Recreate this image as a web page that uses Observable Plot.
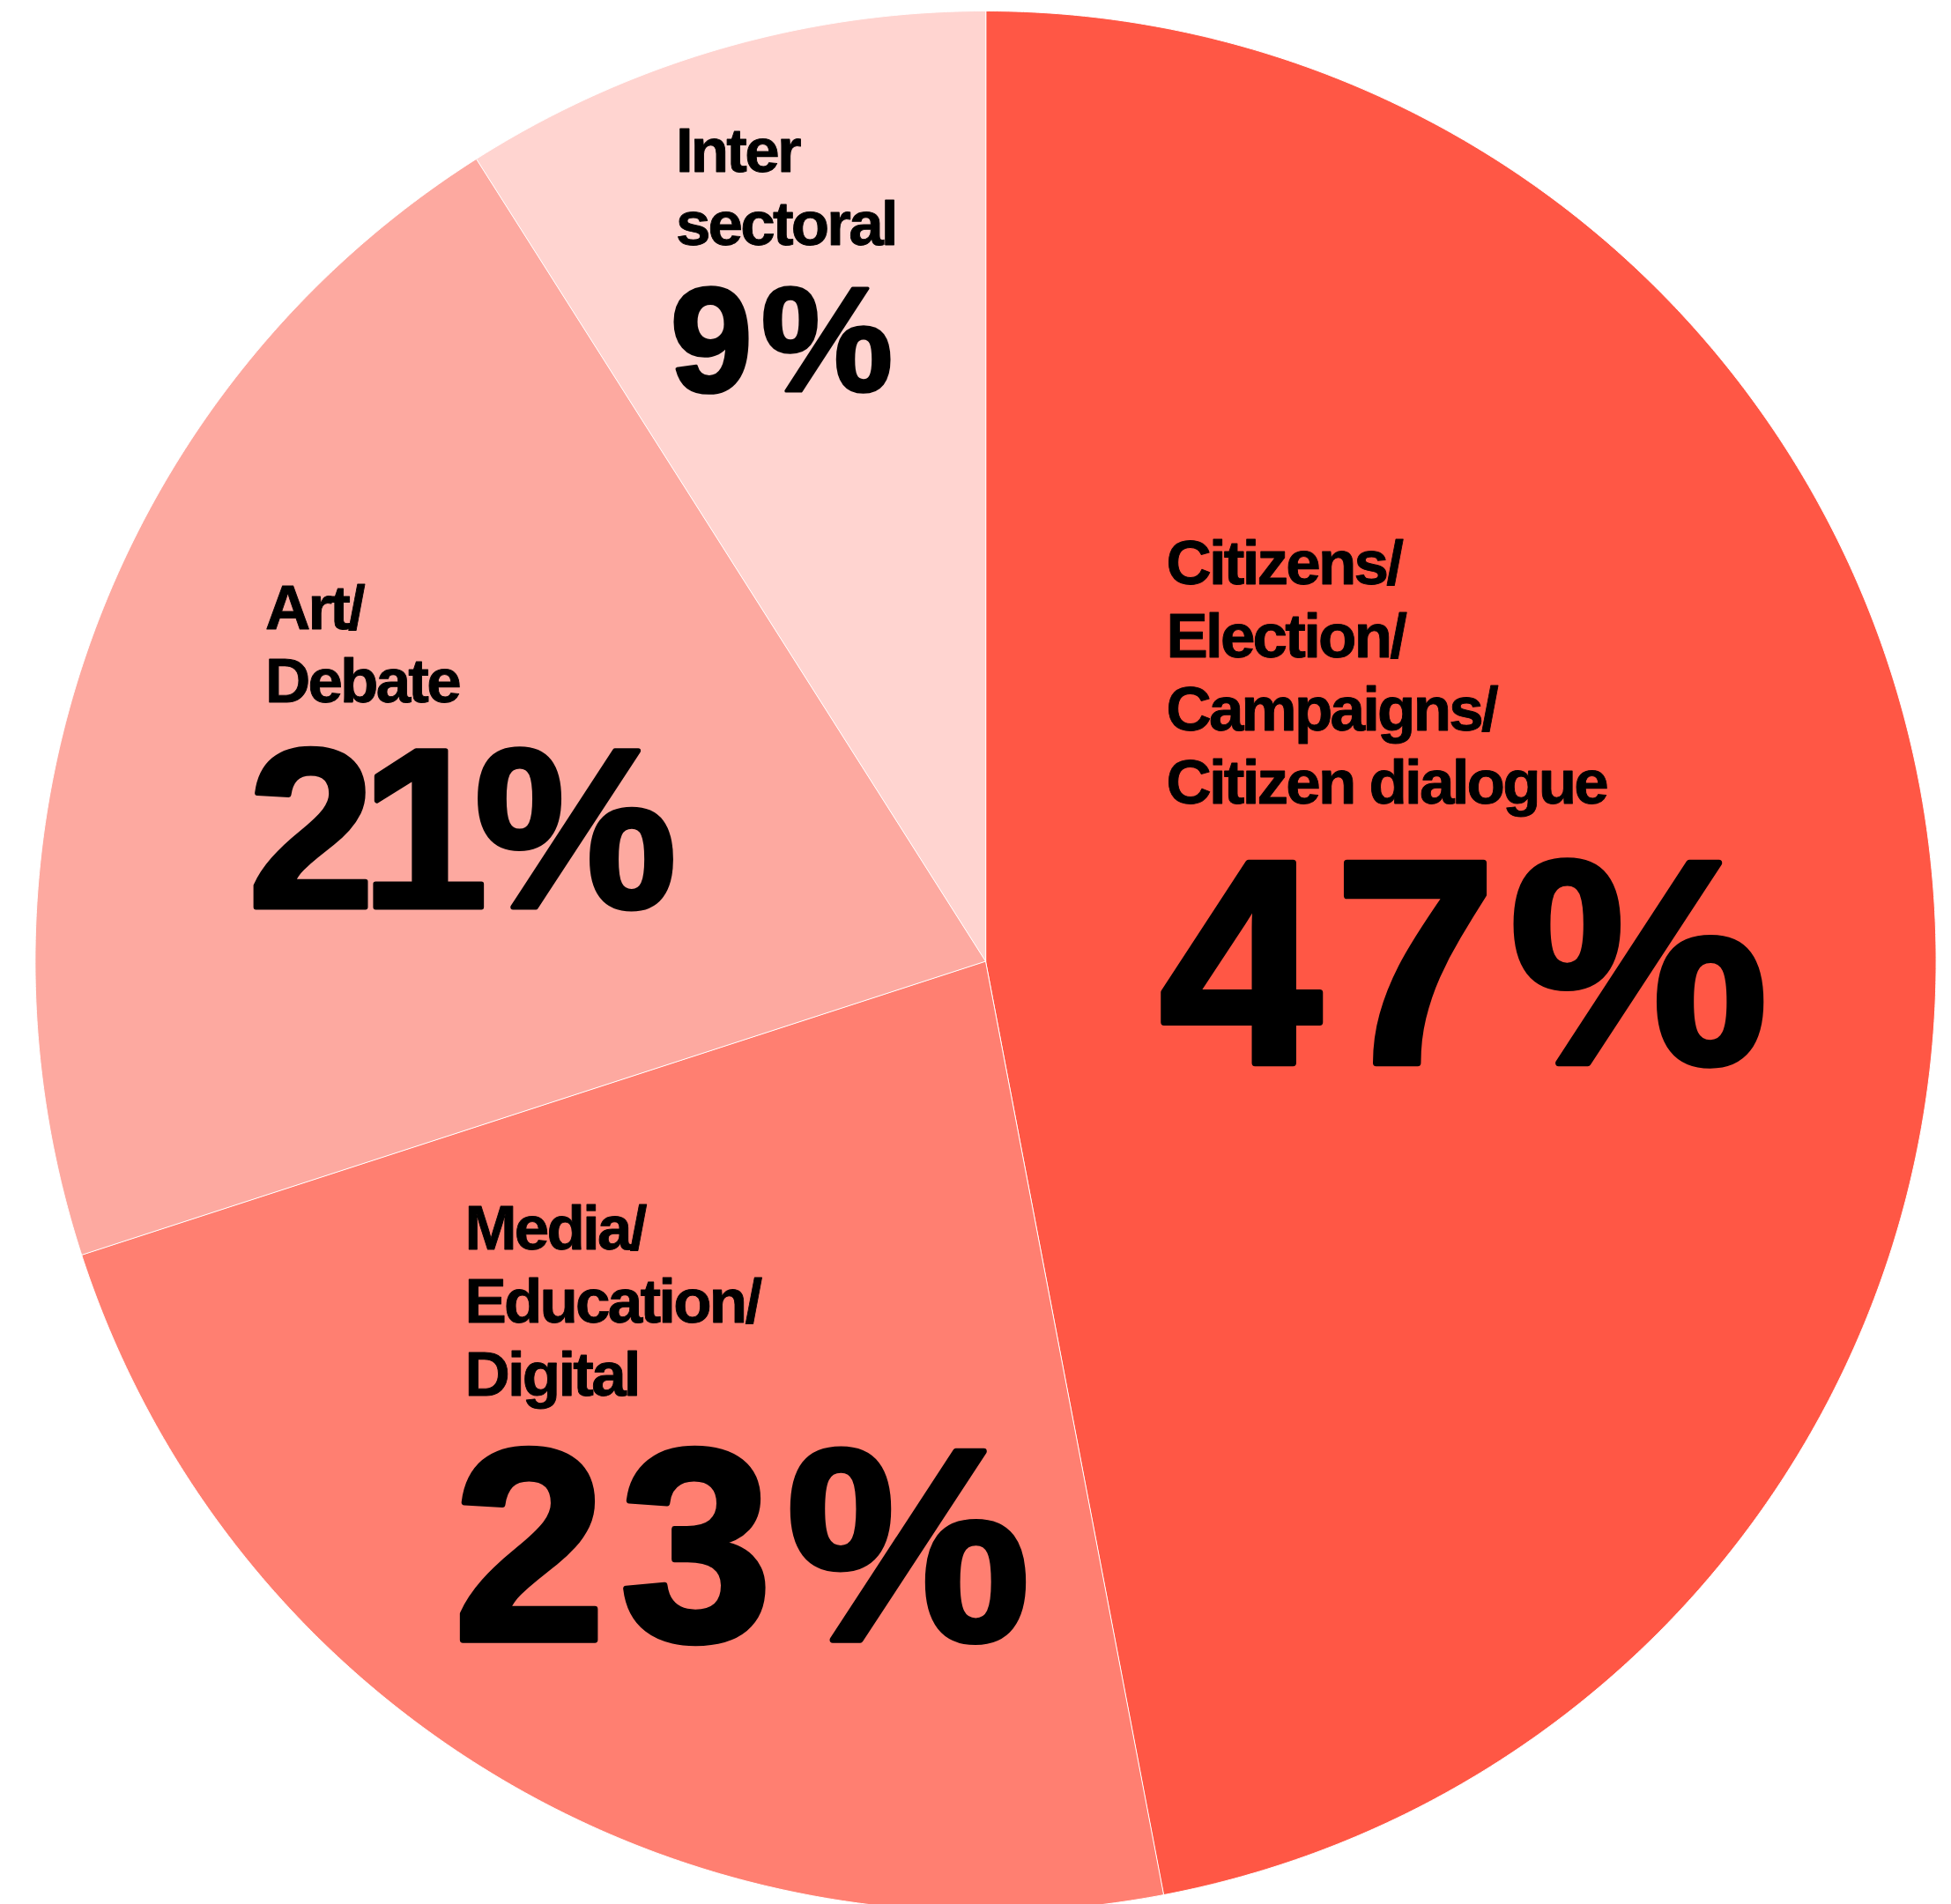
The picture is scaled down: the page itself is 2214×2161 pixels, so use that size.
<!DOCTYPE html>
<html><head><meta charset="utf-8">
<script src="https://cdn.jsdelivr.net/npm/d3@7"></script>
<script src="https://cdn.jsdelivr.net/npm/@observablehq/plot@0.6"></script>
<style>body{margin:0;background:#fff}svg{display:block}</style>
</head><body><div id="chart"></div>
<script>
// ---- data ----
const categories = ["Citizens/\nElection/\nCampaigns/\nCitizen dialogue", "Media/\nEducation/\nDigital", "Art/\nDebate", "Inter\nsectoral"];
const shares = [47, 23, 21, 9];
const colors = ["#FF5745", "#FF7F71", "#FDA9A0", "#FFD4D0"];

// ---- layout (not data) ----
const W = 2214, H = 2161;
const CX = 1118, CY = 1090.6, R = 1078.6;   // pie centre & radius in px
// label anchors in pie units (radius = 1, y up): name = last-line baseline, pct = baseline
const labelLayout = [
  {nx: 0.190, ny: 0.1665, px: 0.183, py: -0.1070, pSize: 330, pLs: 15},
  {nx: -0.548, ny: -0.4566, px: -0.560, py: -0.7140, pSize: 311, pLs: 16},
  {nx: -0.758, ny: 0.2731, px: -0.776, py: 0.0570, pSize: 258, pLs: -15},
  {nx: -0.326, ny: 0.7534, px: -0.332, py: 0.5995, pSize: 168, pLs: 10}
];
const nameLetterSpacing = -2.8;

const data = categories.map((name, i) => ({name, value: shares[i], ...labelLayout[i]}));
const arcs = d3.pie().sort(null).value(d => d.value)(data);
const pts = arcs.flatMap(a => {
  const n = Math.max(2, Math.ceil((a.endAngle - a.startAngle) / 0.004));
  const out = [{name: a.data.name, x: 0, y: 0}];
  for (let k = 0; k <= n; k++) {
    const t = a.startAngle + (a.endAngle - a.startAngle) * k / n;
    out.push({name: a.data.name, x: Math.sin(t), y: Math.cos(t)});
  }
  return out;
});

const font = "'Liberation Sans', Arial, Helvetica, sans-serif";
const pctMarks = data.map(d => Plot.text([d], {
  x: "px", y: "py", text: v => v.value + "%",
  textAnchor: "start", lineAnchor: "bottom",
  fontSize: d.pSize, fontFamily: font, fontWeight: "bold",
  fill: "black", stroke: "black", strokeWidth: d.pSize * 0.022,
  ariaLabel: "pct"
}));

const chart = Plot.plot({
  width: W, height: H,
  margin: 0,
  x: {domain: [-CX / R, (W - CX) / R], range: [0, W], axis: null},
  y: {domain: [(CY - H) / R, CY / R], range: [H, 0], axis: null},
  color: {domain: categories, range: colors},
  marks: [
    Plot.line(pts, {x: "x", y: "y", z: "name", fill: "name", stroke: "white", strokeWidth: 1, curve: "linear-closed"}),
    Plot.text(data, {
      x: "nx", y: "ny", text: "name",
      textAnchor: "start", lineAnchor: "bottom", lineHeight: 83 / 71,
      fontSize: 71, fontFamily: font, fontWeight: "bold", fill: "black",
      stroke: "black", strokeWidth: 0.9
    }),
    ...pctMarks
  ]
});
// letter-spacing (not a Plot option) applied to the rendered text groups
const groups = chart.querySelectorAll('g[aria-label="text"], g[aria-label="pct"]');
groups.forEach((g, i) => {
  g.setAttribute("letter-spacing", i === 0 ? nameLetterSpacing : labelLayout[i - 1].pLs);
});
document.getElementById("chart").appendChild(chart);
</script>
</body></html>
